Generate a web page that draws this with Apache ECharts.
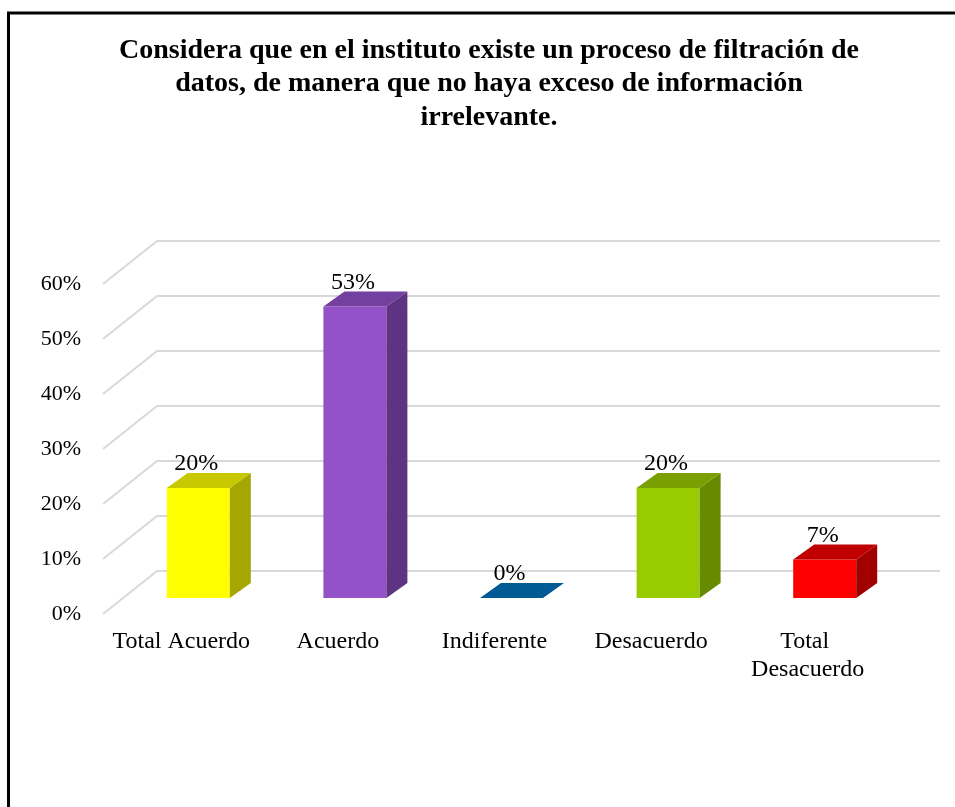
<!DOCTYPE html>
<html>
<head>
<meta charset="utf-8">
<script src="https://cdn.jsdelivr.net/npm/echarts@6/dist/echarts.min.js"></script>
<style>
  html, body { margin: 0; padding: 0; background: #fff; }
  #chart { width: 955px; height: 807px; }
</style>
</head>
<body>
<div id="chart"></div>
<script>
var categories = ['Total Acuerdo', 'Acuerdo', 'Indiferente', 'Desacuerdo', 'Total Desacuerdo'];
var values = [20, 53, 0, 20, 7];
var yTicks = [0, 10, 20, 30, 40, 50, 60];
var frontColors = ['#FFFF00', '#9452C8', '#0070C0', '#99CC00', '#FF0000'];
var topColors = ['#C8C800', '#7340A0', '#005A94', '#7A9F00', '#C00000'];
var sideColors = ['#A6A600', '#5E3381', '#004A7A', '#668A00', '#A00000'];

var FONT = '"Liberation Serif", "Times New Roman", serif';
// depth of the back wall and of the bar plane (px)
var WALL_DX = 54, WALL_DY = 43;
var BAR_DX = 17, BAR_DY = 16;
var BAR_W = 63, SIDE_DX = 21, SIDE_DY = 15;

var chart = echarts.init(document.getElementById('chart'));

var option = {
    animation: false,
    backgroundColor: '#fff',
    grid: { left: 103, top: 284, width: 783, height: 330 },
    xAxis: {
        type: 'category',
        data: categories,
        axisLine: { show: false },
        axisTick: { show: false },
        splitLine: { show: false },
        axisLabel: {
            interval: 0,
            margin: 14,
            color: '#000',
            fontSize: 24,
            fontFamily: FONT,
            lineHeight: 28,
            width: 150,
            overflow: 'break'
        }
    },
    yAxis: {
        type: 'value',
        min: 0,
        max: 60,
        interval: 10,
        axisLine: { show: false },
        axisTick: { show: false },
        splitLine: { show: false },
        axisLabel: {
            margin: 22,
            color: '#000',
            fontSize: 22,
            fontFamily: FONT,
            formatter: '{value}%'
        }
    },
    graphic: [
        {
            type: 'rect',
            shape: { x: 8.5, y: 13, width: 1000, height: 1000 },
            style: { fill: 'none', stroke: '#000', lineWidth: 3 },
            silent: true
        },
        {
            type: 'text',
            x: 489,
            y: 84,
            style: {
                text: 'Considera que en el instituto existe un proceso de filtración de\ndatos, de manera que no haya exceso de información\nirrelevante.',
                align: 'center',
                verticalAlign: 'middle',
                font: 'bold 28px ' + FONT,
                lineHeight: 33.5,
                fill: '#000'
            }
        }
    ],
    series: [
        {
            type: 'custom',
            z: 1,
            silent: true,
            data: yTicks.map(function (v) { return [0, v]; }),
            renderItem: function (params, api) {
                var cs = params.coordSys;
                var y = api.coord([0, api.value(1)])[1];
                return {
                    type: 'polyline',
                    shape: {
                        points: [
                            [cs.x, y],
                            [cs.x + WALL_DX, y - WALL_DY],
                            [cs.x + cs.width + WALL_DX, y - WALL_DY]
                        ]
                    },
                    style: { stroke: '#D9D9D9', lineWidth: 2, fill: 'none' }
                };
            }
        },
        {
            type: 'custom',
            z: 2,
            data: values.map(function (v, i) { return [i, v]; }),
            renderItem: function (params, api) {
                var i = api.value(0);
                var base = api.coord([i, 0]);
                var top = api.coord([i, api.value(1)]);
                var cx = base[0] + BAR_DX;
                var l = cx - BAR_W / 2, r = cx + BAR_W / 2;
                var b = base[1] - BAR_DY, t = top[1] - BAR_DY;
                var children = [];
                if (b - t > 0.5) {
                    children.push({
                        type: 'rect',
                        shape: { x: l, y: t, width: BAR_W, height: b - t },
                        style: { fill: frontColors[i] }
                    });
                    children.push({
                        type: 'polygon',
                        shape: { points: [[r, t], [r + SIDE_DX, t - SIDE_DY], [r + SIDE_DX, b - SIDE_DY], [r, b]] },
                        style: { fill: sideColors[i] }
                    });
                }
                children.push({
                    type: 'polygon',
                    shape: { points: [[l, t], [l + SIDE_DX, t - SIDE_DY], [r + SIDE_DX, t - SIDE_DY], [r, t]] },
                    style: { fill: topColors[i] }
                });
                children.push({
                    type: 'text',
                    style: {
                        text: api.value(1) + '%',
                        x: cx - 2,
                        y: t - SIDE_DY - 9,
                        align: 'center',
                        verticalAlign: 'middle',
                        font: '24px ' + FONT,
                        fill: '#000'
                    }
                });
                return { type: 'group', children: children };
            }
        }
    ]
};

chart.setOption(option);
</script>
</body>
</html>
